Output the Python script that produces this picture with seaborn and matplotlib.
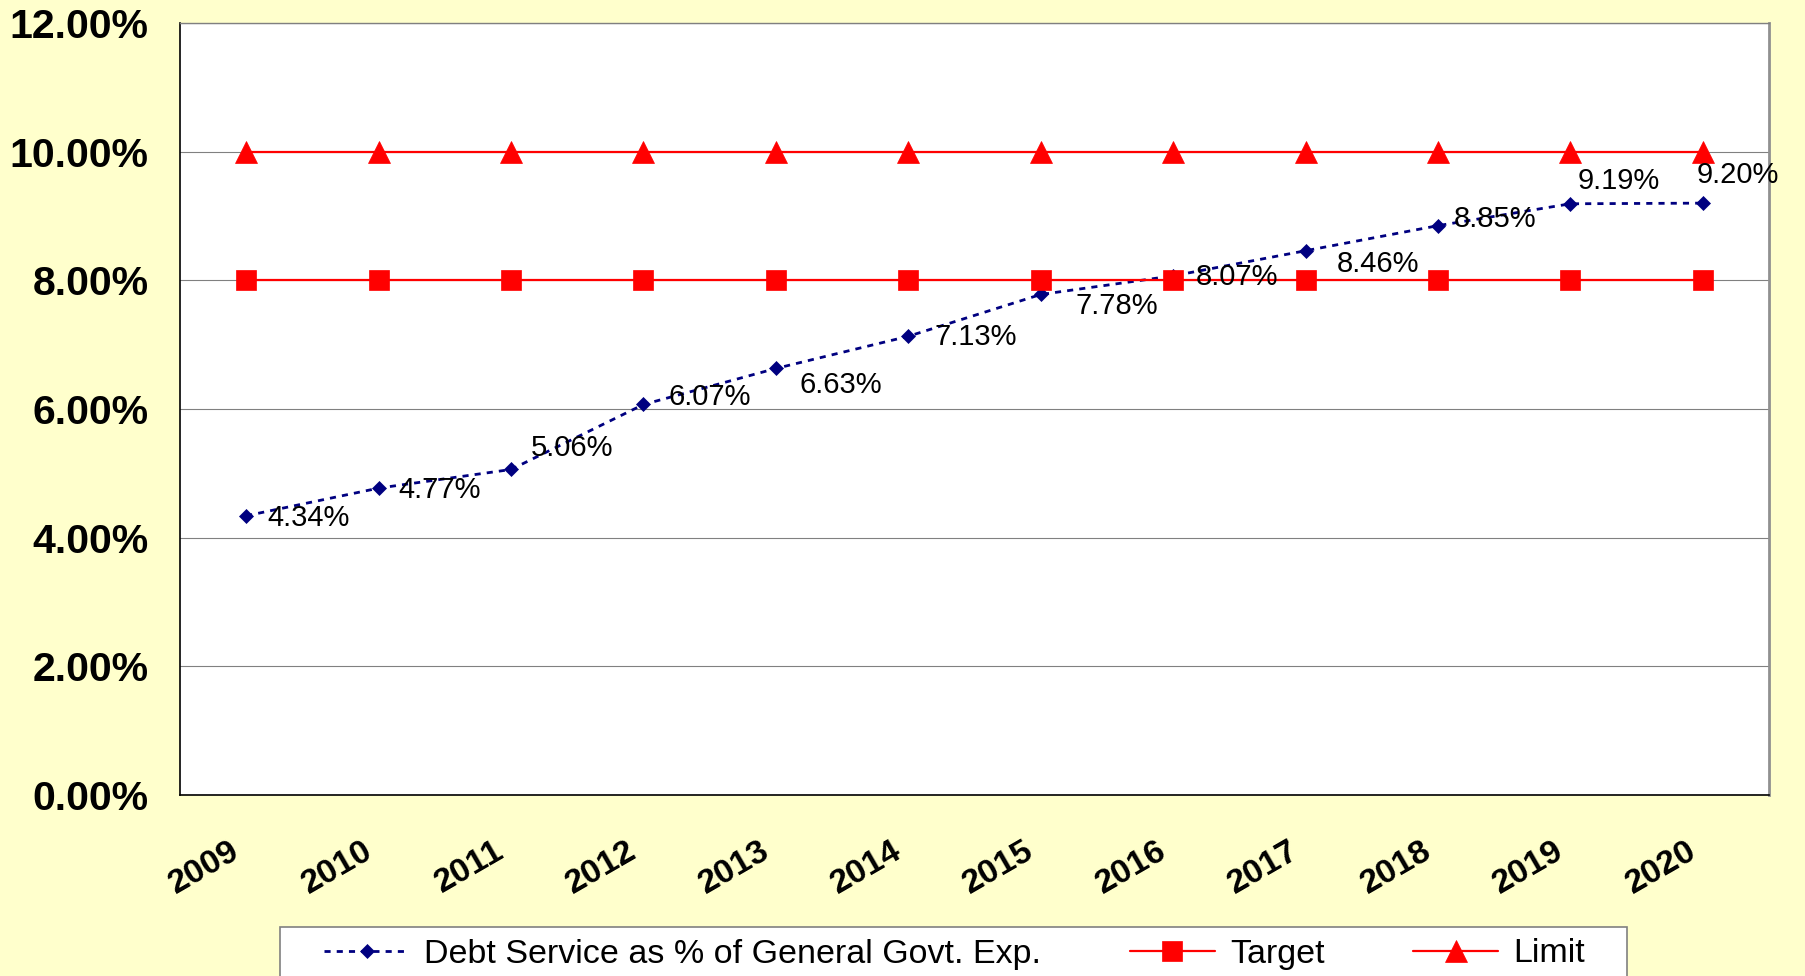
import numpy as np
import pandas as pd
import matplotlib
matplotlib.use("Agg")
import matplotlib.pyplot as plt
import seaborn as sns
from matplotlib.patches import Rectangle
from matplotlib.ticker import FixedLocator, FuncFormatter, NullFormatter
from matplotlib.transforms import ScaledTranslation

# ---- data ----
years = ['2009', '2010', '2011', '2012', '2013', '2014',
         '2015', '2016', '2017', '2018', '2019', '2020']
debt_service = [4.34, 4.77, 5.06, 6.07, 6.63, 7.13, 7.78, 8.07, 8.46, 8.85, 9.19, 9.20]
target = [8.00] * 12
limit = [10.00] * 12
y_ticks = [0, 2, 4, 6, 8, 10, 12]
series_names = ['Debt Service as % of General Govt. Exp.', 'Target', 'Limit']

# data-label offsets (pixels, x right / y up) relative to each point
label_offsets = [(21, -2), (20, -2), (20, 21), (25, 7), (24, -17), (26, -1),
                 (35, -12), (23, -1), (31, -13), (16, 7), (7, 23), (-6, 28)]

sns.set_style('white')
plt.rcParams['font.family'] = ['Liberation Sans', 'DejaVu Sans']
plt.rcParams['text.color'] = 'black'
plt.rcParams['xtick.color'] = 'black'
plt.rcParams['ytick.color'] = 'black'
plt.rcParams['axes.labelcolor'] = 'black'

W, H = 1806, 976
BG = '#FFFFCC'
fig = plt.figure(figsize=(W / 100, H / 100), dpi=100, facecolor=BG)
L, R, T, B = 180, 1769, 23, 795
ax = fig.add_axes([L / W, 1 - B / H, (R - L) / W, (B - T) / H])
ax.set_facecolor('white')

df = pd.DataFrame({'pos': np.arange(len(years)), 'year': years,
                   'debt': debt_service, 'target': target, 'limit': limit})

sns.lineplot(data=df, x='pos', y='debt', ax=ax, color='#000080', lw=2,
             linestyle=(0, (2.2, 2.2)), marker='D', markersize=7.5,
             markeredgecolor='#000080', markeredgewidth=0.5,
             label=series_names[0], legend=False)
sns.lineplot(data=df, x='pos', y='target', ax=ax, color='#FF0000', lw=1.6,
             marker='s', markersize=14, markeredgecolor='#FF0000',
             markeredgewidth=0.5, label=series_names[1], legend=False)
sns.lineplot(data=df, x='pos', y='limit', ax=ax, color='#FF0000', lw=1.6,
             marker='^', markersize=16, markeredgecolor='#FF0000',
             markeredgewidth=0.5, label=series_names[2], legend=False)

for xi, yi, (dx, dy) in zip(df['pos'], df['debt'], label_offsets):
    ax.annotate(f'{yi:.2f}%', (xi, yi), xytext=(dx, dy), textcoords='offset pixels',
                ha='left', va='center', fontsize=21, color='black', zorder=10)

# axes
ax.set_xlim(-0.5, len(years) - 0.5)
ax.set_ylim(0, 12)
ax.set_xlabel('')
ax.set_ylabel('')
ax.yaxis.set_major_locator(FixedLocator(y_ticks))
ax.yaxis.set_major_formatter(FuncFormatter(lambda v, p: f'{v:.2f}%'))
ax.tick_params(axis='y', which='major', direction='out', length=8.6, width=1,
               color='black', labelcolor='black', pad=14, labelsize=29.5)
for lab in ax.get_yticklabels():
    lab.set_fontweight('bold')

ax.xaxis.set_major_locator(FixedLocator(np.arange(len(years) + 1) - 0.5))
ax.xaxis.set_major_formatter(NullFormatter())
ax.set_xticks(df['pos'], labels=years, minor=True)
ax.tick_params(axis='x', which='major', direction='out', length=7, width=1, color='black')
ax.tick_params(axis='x', which='minor', length=0, pad=39, labelsize=24.5, labelcolor='black')
offset = ScaledTranslation(-9 / 100, 0, fig.dpi_scale_trans)
for lab in ax.get_xticklabels(minor=True):
    lab.set_rotation(30)
    lab.set_ha('right')
    lab.set_va('center')
    lab.set_rotation_mode('anchor')
    lab.set_fontweight('bold')
    lab.set_transform(lab.get_transform() + offset)

ax.yaxis.grid(True, color='#808080', lw=0.8)
ax.xaxis.grid(False)
ax.set_axisbelow(True)
ax.spines['left'].set_color('black')
ax.spines['left'].set_linewidth(1.2)
ax.spines['bottom'].set_color('black')
ax.spines['bottom'].set_linewidth(1.2)
ax.spines['top'].set_color('#808080')
ax.spines['top'].set_linewidth(1)
ax.spines['right'].set_color('#909090')
ax.spines['right'].set_linewidth(2)
for s in ax.spines.values():
    s.set_visible(True)

# legend box + legend
fig.patches.append(Rectangle((280 / W, -0.05), (1627 - 280) / W, (1 - 927 / H) + 0.05,
                             transform=fig.transFigure, facecolor='white',
                             edgecolor='#808080', lw=1.2, zorder=1))
handles, labels = ax.get_legend_handles_labels()
leg = fig.legend(handles, labels, loc='center left', bbox_to_anchor=(307 / W, 1 - 954 / H),
                 ncol=3, frameon=False, fontsize=24.5, handlelength=2.5, handletextpad=0.45,
                 columnspacing=2.6, borderpad=0, numpoints=1)
for t in leg.get_texts():
    t.set_color('black')

fig.savefig('out.png', dpi=100, facecolor=BG)
